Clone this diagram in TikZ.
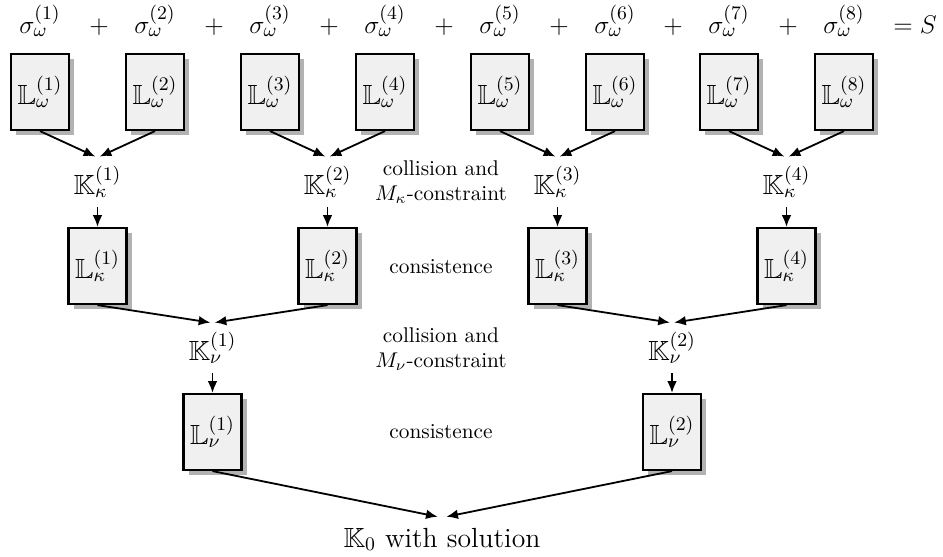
\documentclass[tikz,border=0pt]{standalone}
\usepackage{amssymb}
\usetikzlibrary{arrows.meta,shadows}
\newcommand\mylbl{\fontsize{13}{15.6}\selectfont}
\begin{document}
\begin{tikzpicture}[x=0.4695pt,y=-0.4695pt,
  lbox/.style={draw, line width=1pt, fill=black!6, minimum width=27.2pt, minimum height=35.7pt, inner sep=0pt,
    drop shadow={shadow xshift=2.5pt, shadow yshift=-2.5pt, fill=black!30, opacity=1}, font=\mylbl},
  knode/.style={minimum height=23.5pt, inner sep=0pt, font=\mylbl},
  arr/.style={-{Latex[length=5.5pt,width=4.5pt]}, line width=0.85pt},
  sig/.style={anchor=base, font=\mylbl},
  mid/.style={align=center}]
\path[use as bounding box] (0,0) rectangle (943,556);
% sigma row
\node[sig] (s1) at (40,33) {$\sigma_\omega^{(1)}$};
\node[sig] (p1) at (99,33) {$+$};
\node[sig] (s2) at (155,33) {$\sigma_\omega^{(2)}$};
\node[sig] (p2) at (214,33) {$+$};
\node[sig] (s3) at (270,33) {$\sigma_\omega^{(3)}$};
\node[sig] (p3) at (329,33) {$+$};
\node[sig] (s4) at (385,33) {$\sigma_\omega^{(4)}$};
\node[sig] (p4) at (444,33) {$+$};
\node[sig] (s5) at (500,33) {$\sigma_\omega^{(5)}$};
\node[sig] (p5) at (559,33) {$+$};
\node[sig] (s6) at (615,33) {$\sigma_\omega^{(6)}$};
\node[sig] (p6) at (673,33) {$+$};
\node[sig] (s7) at (729,33) {$\sigma_\omega^{(7)}$};
\node[sig] (p7) at (788,33) {$+$};
\node[sig] (s8) at (844,33) {$\sigma_\omega^{(8)}$};
\node[sig] (eq) at (915,33) {$=S$};
% L omega boxes
\node[lbox] (lw1) at (40,92) {$\mathbb{L}_\omega^{(1)}$};
\node[lbox] (lw2) at (155,92) {$\mathbb{L}_\omega^{(2)}$};
\node[lbox] (lw3) at (270,92) {$\mathbb{L}_\omega^{(3)}$};
\node[lbox] (lw4) at (385,92) {$\mathbb{L}_\omega^{(4)}$};
\node[lbox] (lw5) at (500,92) {$\mathbb{L}_\omega^{(5)}$};
\node[lbox] (lw6) at (615,92) {$\mathbb{L}_\omega^{(6)}$};
\node[lbox] (lw7) at (729,92) {$\mathbb{L}_\omega^{(7)}$};
\node[lbox] (lw8) at (844,92) {$\mathbb{L}_\omega^{(8)}$};
% K kappa
\node[knode] (kk1) at (97.5,182) {$\mathbb{K}_\kappa^{(1)}$};
\node[knode] (kk2) at (327.5,182) {$\mathbb{K}_\kappa^{(2)}$};
\node[knode] (kk3) at (557.5,182) {$\mathbb{K}_\kappa^{(3)}$};
\node[knode] (kk4) at (786.5,182) {$\mathbb{K}_\kappa^{(4)}$};
% L kappa
\node[lbox] (lk1) at (97.5,266) {$\mathbb{L}_\kappa^{(1)}$};
\node[lbox] (lk2) at (327.5,266) {$\mathbb{L}_\kappa^{(2)}$};
\node[lbox] (lk3) at (557.5,266) {$\mathbb{L}_\kappa^{(3)}$};
\node[lbox] (lk4) at (786.5,266) {$\mathbb{L}_\kappa^{(4)}$};
% K nu
\node[knode] (kn1) at (212.5,348) {$\mathbb{K}_\nu^{(1)}$};
\node[knode] (kn2) at (672,348) {$\mathbb{K}_\nu^{(2)}$};
% L nu
\node[lbox] (ln1) at (212.5,432) {$\mathbb{L}_\nu^{(1)}$};
\node[lbox] (ln2) at (672,432) {$\mathbb{L}_\nu^{(2)}$};
% K0
\node[anchor=base, inner sep=5pt, font=\mylbl] (k0) at (442,547) {$\mathbb{K}_0$ with solution};
% middle texts
\node[mid] (t1) at (441,182) {collision and\\$M_\kappa$-constraint};
\node[mid] (t2) at (441,267) {consistence};
\node[mid] (t3) at (441,349) {collision and\\$M_\nu$-constraint};
\node[mid] (t4) at (441,432) {consistence};
% arrows
\draw[arr] (lw1.south) -- ([xshift=-1pt]kk1.north);
\draw[arr] (lw2.south) -- ([xshift=1pt]kk1.north);
\draw[arr] (lw3.south) -- ([xshift=-1pt]kk2.north);
\draw[arr] (lw4.south) -- ([xshift=1pt]kk2.north);
\draw[arr] (lw5.south) -- ([xshift=-1pt]kk3.north);
\draw[arr] (lw6.south) -- ([xshift=1pt]kk3.north);
\draw[arr] (lw7.south) -- ([xshift=-1pt]kk4.north);
\draw[arr] (lw8.south) -- ([xshift=1pt]kk4.north);
\draw[arr] (kk1.south) -- (lk1.north);
\draw[arr] (kk2.south) -- (lk2.north);
\draw[arr] (kk3.south) -- (lk3.north);
\draw[arr] (kk4.south) -- (lk4.north);
\draw[arr] (lk1.south) -- ([xshift=-1pt]kn1.north);
\draw[arr] (lk2.south) -- ([xshift=1pt]kn1.north);
\draw[arr] (lk3.south) -- ([xshift=-1pt]kn2.north);
\draw[arr] (lk4.south) -- ([xshift=1pt]kn2.north);
\draw[arr] (kn1.south) -- (ln1.north);
\draw[arr] (kn2.south) -- (ln2.north);
\draw[arr] (ln1.south) -- ([xshift=-2pt]k0.north);
\draw[arr] (ln2.south) -- ([xshift=2pt]k0.north);
\end{tikzpicture}
\end{document}
